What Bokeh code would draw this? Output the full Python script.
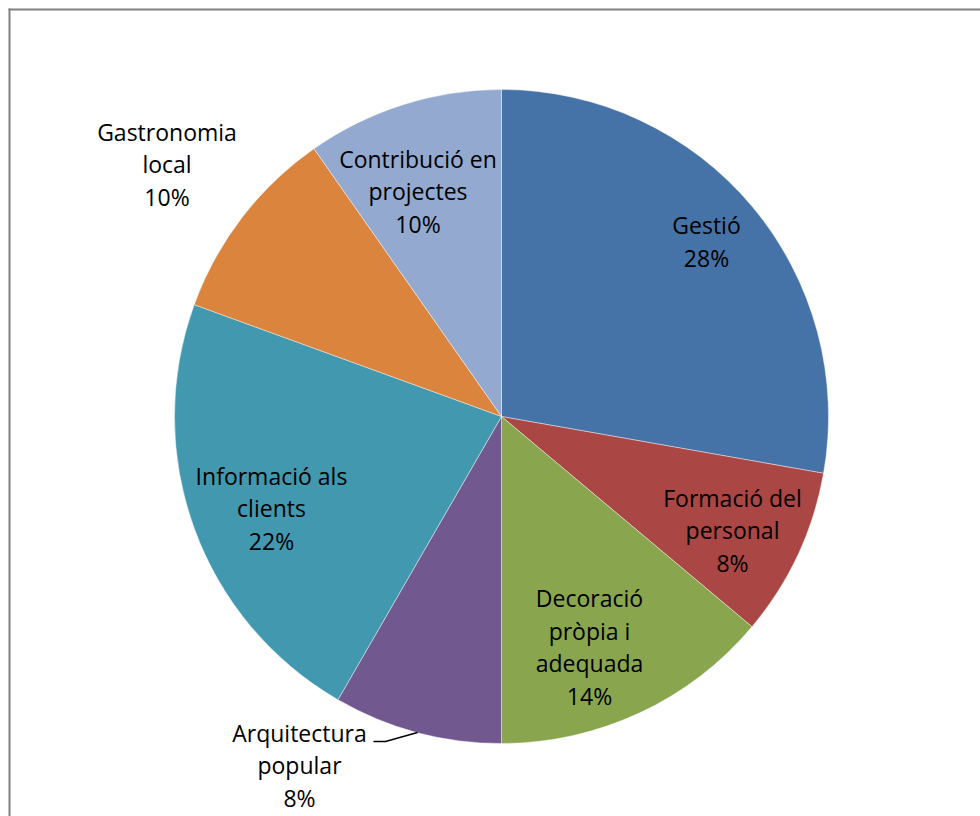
import math
from bokeh.plotting import figure
from bokeh.models import Range1d, ColumnDataSource
from bokeh.core.properties import value
from bokeh.embed import file_html
from bokeh.resources import INLINE

# ---- data ----
categories = ["Gestió", "Formació del personal", "Decoració pròpia i adequada",
              "Arquitectura popular", "Informació als clients", "Gastronomia local",
              "Contribució en projectes"]
label_lines = [["Gestió"], ["Formació del", "personal"], ["Decoració", "pròpia i", "adequada"],
               ["Arquitectura", "popular"], ["Informació als", "clients"], ["Gastronomia", "local"],
               ["Contribució en", "projectes"]]
counts = [20, 6, 10, 6, 16, 7, 7]
colors = ["#4572A7", "#AA4643", "#89A54E", "#71588F", "#4198AF", "#DB843D", "#93A9CF"]

# ---- layout ----
W, H = 980, 816
CX, CY, R = 501, 400, 327
LH = 32.5
FONT = "Open Sans"
FS = "23px"
TEXT_SHIFT = 1.5
# label centre offsets from pie centre (pixels, y up)
label_offsets = [(205, 173.5), (231, -115), (88, -232), (-202, -350),
                 (-230, -93), (-334.5, 251), (-83.5, 224)]

total = sum(counts)
starts, ends = [], []
cum = 0.0
for c in counts:
    a0 = math.pi / 2 - 2 * math.pi * (cum + c) / total
    a1 = math.pi / 2 - 2 * math.pi * cum / total
    starts.append(a0)
    ends.append(a1)
    cum += c

p = figure(width=W, height=H, output_backend="svg", toolbar_location=None,
           x_range=Range1d(0, W), y_range=Range1d(0, H), min_border=0)
p.axis.visible = False
p.grid.visible = False
p.outline_line_color = None
p.background_fill_color = "white"
p.border_fill_color = "white"

src = ColumnDataSource(dict(x=[CX] * len(counts), y=[CY] * len(counts),
                            start=starts, end=ends, color=colors))
p.wedge(x="x", y="y", radius=R, start_angle="start", end_angle="end",
        fill_color="color", line_color="white", line_width=0.6, line_alpha=0.7,
        source=src)

# labels
tx, ty, tt = [], [], []
for lines, c, (dx, dy) in zip(label_lines, counts, label_offsets):
    pct = f"{round(100 * c / total)}%"
    all_lines = lines + [pct]
    n = len(all_lines)
    for i, s in enumerate(all_lines):
        tx.append(CX + dx)
        ty.append(CY + dy + TEXT_SHIFT + (n - 1) / 2 * LH - i * LH)
        tt.append(s)
p.text(x=tx, y=ty, text=tt, text_align="center", text_baseline="middle",
       text_font=value(FONT), text_font_size=FS, text_color="black")

# leader line for Arquitectura popular
p.line(x=[CX - 128, CX - 116, CX - 84], y=[CY - 325, CY - 325, CY - 316],
       line_color="black", line_width=1.3)

# chart frame (top and left edges visible)
p.line(x=[9, 9], y=[0, H - 8], line_color="#808080", line_width=2)
p.line(x=[8, W], y=[H - 9, H - 9], line_color="#808080", line_width=2)

open("out.html", "w").write(file_html(p, INLINE))
